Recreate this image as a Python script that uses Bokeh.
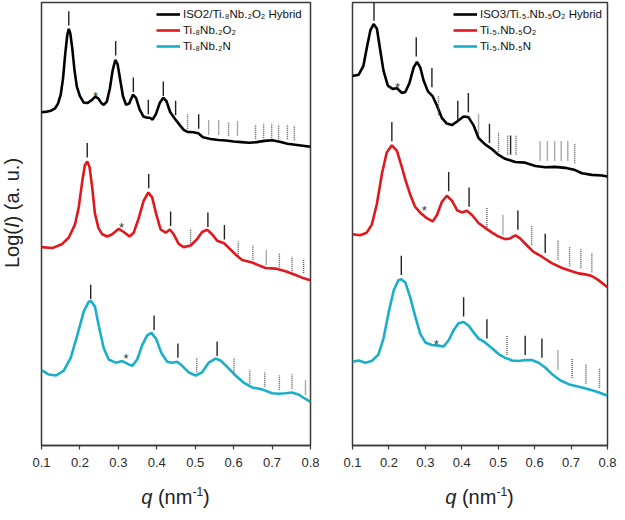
from bokeh.plotting import figure
from bokeh.models import Range1d, FixedTicker, Legend, LegendItem, Div
from bokeh.layouts import row, column
from bokeh.embed import file_html
from bokeh.resources import INLINE
from bokeh.core.properties import value

FONT = "Liberation Sans"
BLACK, RED, CYAN = "#000000", "#E0181E", "#1AAFC9"
FRAME_C = "#3a3a3a"

X_TICKS = [0.1, 0.2, 0.3, 0.4, 0.5, 0.6, 0.7, 0.8]

# ---------------- left panel data (q in nm^-1, log intensity in arbitrary units, offset) ----------------
q_iso2 = [0.100, 0.115, 0.125, 0.135, 0.143, 0.150, 0.156, 0.162, 0.167, 0.171, 0.175, 0.180, 0.186, 0.192,
          0.200, 0.210, 0.220, 0.230, 0.240, 0.248, 0.255, 0.262, 0.270, 0.278, 0.285, 0.292, 0.298, 0.305,
          0.312, 0.320, 0.328, 0.338, 0.346, 0.355, 0.365, 0.375, 0.382, 0.389, 0.398, 0.408, 0.417, 0.425,
          0.435, 0.447, 0.460, 0.470, 0.480, 0.495, 0.508, 0.520, 0.540, 0.560, 0.580, 0.600, 0.620, 0.640,
          0.660, 0.680, 0.700, 0.720, 0.740, 0.760, 0.780, 0.800]
i_iso2 = [346.0, 346.7, 347.7, 350.0, 355.0, 364.3, 381.0, 407.7, 426.0, 432.7, 427.7, 412.7, 389.3, 372.7,
          362.7, 356.0, 355.7, 358.3, 362.3, 360.3, 356.0, 353.7, 357.0, 371.0, 389.3, 400.3, 396.0, 379.3,
          362.7, 353.7, 355.0, 364.3, 361.0, 349.3, 341.7, 340.3, 340.3, 338.3, 344.3, 356.0, 361.0, 357.7,
          346.0, 339.3, 332.7, 327.7, 325.7, 325.3, 324.3, 320.0, 318.3, 317.3, 316.7, 315.7, 315.0, 314.3,
          315.0, 316.3, 317.0, 315.3, 313.3, 312.3, 311.3, 310.3]

q_t82o = [0.100, 0.128, 0.154, 0.171, 0.187, 0.197, 0.206, 0.213, 0.219, 0.225, 0.232, 0.239, 0.248, 0.258,
          0.271, 0.284, 0.301, 0.314, 0.329, 0.340, 0.353, 0.366, 0.378, 0.388, 0.398, 0.410, 0.423, 0.434,
          0.444, 0.457, 0.470, 0.488, 0.505, 0.518, 0.531, 0.544, 0.557, 0.575, 0.588, 0.605, 0.622, 0.648,
          0.683, 0.709, 0.735, 0.761, 0.778, 0.800]
i_t82o = [206.0, 205.0, 209.3, 216.0, 229.3, 247.7, 274.3, 291.0, 295.0, 289.3, 267.7, 241.0, 226.0, 219.3,
          217.0, 219.3, 225.0, 221.7, 217.0, 221.0, 236.0, 254.3, 262.7, 257.7, 241.0, 224.3, 221.0, 224.3,
          219.3, 209.3, 206.0, 207.7, 214.3, 221.7, 224.0, 219.3, 212.7, 210.0, 205.0, 198.3, 192.7, 190.0,
          184.3, 183.7, 181.0, 177.0, 174.3, 171.7]

q_t82n = [0.100, 0.119, 0.138, 0.158, 0.176, 0.193, 0.210, 0.223, 0.229, 0.239, 0.249, 0.262, 0.275, 0.293,
          0.310, 0.323, 0.336, 0.349, 0.362, 0.375, 0.386, 0.398, 0.412, 0.427, 0.440, 0.453, 0.466, 0.483,
          0.501, 0.518, 0.535, 0.553, 0.566, 0.583, 0.605, 0.627, 0.648, 0.674, 0.700, 0.718, 0.735, 0.752,
          0.770, 0.787, 0.800]
i_t82n = [78.3, 73.7, 72.7, 77.7, 91.0, 114.3, 139.3, 149.3, 150.0, 144.3, 124.3, 101.0, 89.3, 86.0,
          87.7, 85.0, 82.7, 89.3, 104.3, 114.3, 117.0, 111.0, 96.0, 87.0, 86.0, 87.0, 82.7, 76.0,
          72.7, 76.0, 86.0, 90.3, 88.3, 81.7, 72.7, 65.0, 60.3, 58.3, 54.3, 53.7, 54.3, 55.0,
          52.7, 48.3, 45.3]

# reflection markers (q position, base height) left panel
L_solid_q = [0.171, 0.293, 0.339, 0.378, 0.417, 0.449, 0.509,
             0.219, 0.379, 0.436, 0.533, 0.576,
             0.228, 0.393, 0.455, 0.557]
L_solid_b = [436, 405, 367, 344, 363, 343, 329,
             299, 267, 228, 227, 214,
             152, 120, 91, 93]
L_dot_q = [0.480, 0.535, 0.561, 0.587, 0.610, 0.657, 0.678, 0.699, 0.717, 0.740, 0.758,
           0.488, 0.612, 0.650, 0.685, 0.719, 0.752, 0.782,
           0.504, 0.601, 0.642, 0.681, 0.719, 0.752, 0.787]
L_dot_b = [329, 323, 323, 321, 322, 318, 319, 319, 318, 318, 317,
           210, 197, 193, 188, 185, 181, 179,
           76, 76, 64, 61, 58, 59, 53]
L_ast_q = [0.2405, 0.308, 0.320]
L_ast_y = [365, 230, 93]

# ---------------- right panel data ----------------
q_iso3 = [0.100, 0.117, 0.130, 0.140, 0.149, 0.158, 0.167, 0.176, 0.185, 0.197, 0.210, 0.222, 0.236, 0.245,
          0.256, 0.268, 0.277, 0.286, 0.295, 0.307, 0.320, 0.332, 0.345, 0.359, 0.373, 0.389, 0.405, 0.418,
          0.432, 0.446, 0.464, 0.483, 0.501, 0.519, 0.547, 0.574, 0.602, 0.629, 0.656, 0.684, 0.711, 0.730,
          0.757, 0.785, 0.800]
i_iso3 = [383.7, 385.0, 394.3, 414.3, 431.0, 437.7, 432.7, 411.0, 389.3, 373.7, 370.3, 371.0, 366.0, 367.0,
          376.0, 392.7, 398.3, 392.7, 379.3, 367.7, 362.7, 352.7, 340.3, 334.3, 332.7, 337.0, 341.7, 341.0,
          332.7, 319.3, 312.7, 307.7, 301.7, 297.7, 294.3, 293.7, 290.3, 289.0, 289.3, 288.3, 286.0, 282.7,
          281.0, 280.3, 279.3]

q_t55o = [0.100, 0.121, 0.139, 0.153, 0.167, 0.181, 0.194, 0.208, 0.222, 0.234, 0.245, 0.258, 0.272, 0.286,
          0.304, 0.320, 0.332, 0.345, 0.359, 0.373, 0.387, 0.400, 0.414, 0.428, 0.446, 0.464, 0.483, 0.501,
          0.519, 0.533, 0.547, 0.560, 0.579, 0.597, 0.620, 0.647, 0.675, 0.702, 0.721, 0.739, 0.757, 0.775,
          0.800]
i_t55o = [219.3, 218.3, 221.0, 229.3, 251.0, 282.7, 304.3, 311.7, 306.0, 291.0, 276.0, 261.0, 247.7, 241.7,
          236.0, 232.7, 239.3, 252.7, 259.3, 254.3, 244.3, 242.0, 243.7, 239.3, 231.0, 226.0, 221.0, 217.0,
          214.3, 215.0, 218.3, 215.0, 207.7, 201.0, 196.0, 189.3, 184.3, 181.0, 178.7, 177.7, 176.0, 171.7,
          164.3]

q_t55n = [0.100, 0.117, 0.135, 0.153, 0.171, 0.185, 0.199, 0.213, 0.226, 0.234, 0.245, 0.258, 0.272, 0.286,
          0.300, 0.318, 0.336, 0.350, 0.364, 0.377, 0.391, 0.405, 0.419, 0.432, 0.446, 0.464, 0.483, 0.501,
          0.519, 0.538, 0.556, 0.574, 0.592, 0.611, 0.629, 0.647, 0.670, 0.693, 0.721, 0.748, 0.775, 0.800]
i_t55n = [87.0, 88.3, 86.0, 87.7, 94.3, 111.0, 137.7, 161.0, 171.7, 172.7, 169.3, 154.3, 134.3, 116.0,
          107.0, 104.3, 103.7, 102.7, 109.3, 119.3, 127.0, 128.3, 124.3, 117.7, 111.0, 107.0, 101.0, 95.0,
          91.0, 88.3, 87.7, 88.7, 88.7, 86.0, 81.0, 74.3, 67.7, 63.7, 61.0, 58.3, 55.3, 51.7]

R_solid_q = [0.159, 0.275, 0.318, 0.389, 0.418, 0.476, 0.534,
             0.208, 0.364, 0.420, 0.554, 0.629,
             0.234, 0.405, 0.469, 0.574, 0.620]
R_solid_b = [441, 404, 372, 338, 346, 314, 302,
             316, 264, 248, 224, 200,
             177, 134, 111, 94, 91]
R_dot_q = [0.336, 0.446, 0.501, 0.526, 0.549, 0.615, 0.635, 0.655, 0.673, 0.691, 0.710,
           0.469, 0.513, 0.592, 0.664, 0.696, 0.727, 0.757,
           0.524, 0.664, 0.703, 0.741, 0.778]
R_dot_b = [343, 324, 305, 302, 302, 296, 296, 296, 296, 296, 293,
           227, 219, 208, 193, 186, 184, 180,
           94, 79, 70, 64, 60]
R_ast_q = [0.2235, 0.297, 0.330]
R_ast_y = [375, 247, 108]

L_labels = ["ISO2/Ti.\u2088Nb.\u2082O\u2082 Hybrid", "Ti.\u2088Nb.\u2082O\u2082", "Ti.\u2088Nb.\u2082N"]
R_labels = ["ISO3/Ti.\u2085.Nb.\u2085O\u2082 Hybrid", "Ti.\u2085.Nb.\u2085O\u2082", "Ti.\u2085.Nb.\u2085N"]

X_TITLE = '<i>q</i> (nm<sup style="font-size:12px">-1</sup>)'
Y_TITLE = 'Log(<i>I</i>) (a. u.)'

HEIGHT = 480
B_TOP, B_BOTTOM = 2, 35
FRAME_H = HEIGHT - B_TOP - B_BOTTOM
YLAB_W = 25


def make_panel(width, bl, br, curves, labels, sq, sb, dq, db, tlen, aq, ay, leg_x):
    p = figure(width=width, height=HEIGHT, x_range=Range1d(0.1, 0.8), y_range=Range1d(0, 460),
               output_backend="svg", toolbar_location=None, title=None,
               min_border_left=bl, min_border_right=br, min_border_top=B_TOP, min_border_bottom=B_BOTTOM)
    p.grid.visible = False
    p.yaxis.visible = False
    p.outline_line_color = FRAME_C
    p.outline_line_width = 1.5
    p.outline_line_alpha = 1.0
    ax = p.xaxis[0]
    ax.ticker = FixedTicker(ticks=X_TICKS, minor_ticks=[])
    ax.major_tick_out = 4
    ax.major_tick_in = 0
    ax.minor_tick_out = 0
    ax.minor_tick_in = 0
    ax.axis_line_color = FRAME_C
    ax.axis_line_width = 1.5
    ax.major_tick_line_color = FRAME_C
    ax.major_tick_line_width = 1.2
    ax.major_label_text_font = FONT
    ax.major_label_text_font_size = "13px"
    ax.major_label_text_color = "#2a2a2a"
    ax.major_label_standoff = 8

    rends = []
    for (q, y, c) in curves:
        rends.append(p.line(q, y, line_color=c, line_width=2.6))

    p.segment(x0=sq, y0=sb, x1=sq, y1=[b + tlen for b in sb], line_color="#222222", line_width=1.4)
    p.segment(x0=dq, y0=db, x1=dq, y1=[b + tlen for b in db], line_color="#555555", line_width=1.4,
              line_dash="1 1")
    p.text(x=aq, y=ay, text=["*"] * len(aq), text_font=value(FONT), text_font_size="13px",
           text_align="center", text_baseline="middle", text_color="#333333", y_offset=3)

    leg = Legend(items=[LegendItem(label=lab, renderers=[r]) for lab, r in zip(labels, rends)],
                 location=(leg_x, FRAME_H - 4 - 48), glyph_width=24, glyph_height=16, label_height=16,
                 label_width=10, spacing=0, padding=0, margin=0, label_standoff=3,
                 label_text_font=FONT, label_text_font_size="11.5px", label_text_color="#111111",
                 border_line_alpha=0, background_fill_alpha=0)
    p.add_layout(leg)
    return p


def x_title(width, bl, frame_w):
    return Div(text=f'<div style="margin-left:{bl}px;width:{frame_w}px;text-align:center;'
                    f'font-family:{FONT};font-size:20px;color:#222;line-height:24px;">{X_TITLE}</div>',
               width=width, height=24, margin=0)


pL = make_panel(306, 16, 21,
                [(q_iso2, i_iso2, BLACK), (q_t82o, i_t82o, RED), (q_t82n, i_t82n, CYAN)],
                L_labels, L_solid_q, L_solid_b, L_dot_q, L_dot_b, 15, L_ast_q, L_ast_y, 115)
pR = make_panel(286, 21, 10,
                [(q_iso3, i_iso3, BLACK), (q_t55o, i_t55o, RED), (q_t55n, i_t55n, CYAN)],
                R_labels, R_solid_q, R_solid_b, R_dot_q, R_dot_b, 20, R_ast_q, R_ast_y, 101)

ydiv = Div(text=f'<div style="height:426px;width:{YLAB_W}px;writing-mode:vertical-rl;transform:rotate(180deg);'
                f'text-align:center;font-family:{FONT};font-size:20px;color:#222;line-height:{YLAB_W}px;">'
                f'{Y_TITLE}</div>',
           width=YLAB_W, height=426, margin=0)

layout = row(ydiv,
             column(pL, x_title(306, 16, 269), spacing=0),
             column(pR, x_title(286, 21, 255), spacing=0),
             spacing=0)
open("out.html", "w").write(file_html(layout, INLINE))
